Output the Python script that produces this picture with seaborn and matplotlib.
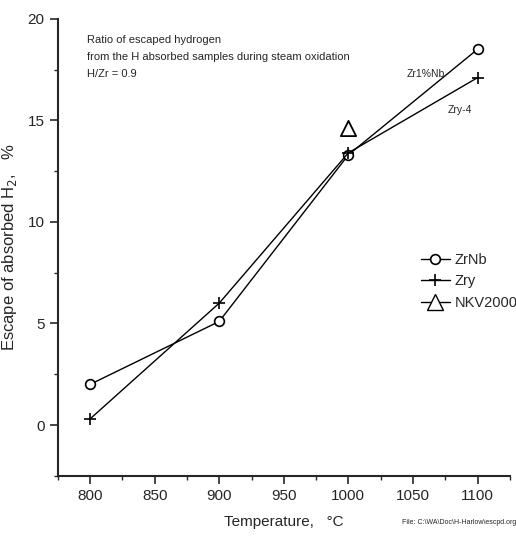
import pandas as pd
import matplotlib
matplotlib.use('Agg')
from matplotlib import pyplot as plt
from matplotlib.ticker import MultipleLocator
import seaborn as sns

sns.set_style('ticks')
plt.rcParams['font.family'] = ['Liberation Sans', 'DejaVu Sans']

temps = [800, 900, 1000, 1100]
zrnb = [2.0, 5.1, 13.3, 18.5]
zry = [0.3, 6.0, 13.4, 17.1]
nkv_temp = [1000]
nkv = [14.6]

df = pd.DataFrame({'T': temps + temps, 'esc': zrnb + zry,
                   'alloy': ['ZrNb'] * 4 + ['Zry'] * 4})

fig = plt.figure(figsize=(5.16, 5.37), dpi=100)
ax = fig.add_axes([0.112, 0.114, 0.876, 0.851])

sns.lineplot(data=df[df.alloy == 'ZrNb'], x='T', y='esc', ax=ax, color='black', lw=1,
             marker='o', markersize=7, markerfacecolor='white', markeredgecolor='black',
             markeredgewidth=1.2, label='ZrNb')
sns.lineplot(data=df[df.alloy == 'Zry'], x='T', y='esc', ax=ax, color='black', lw=1,
             marker='+', markersize=9, markeredgewidth=1.2, markeredgecolor='black',
             label='Zry')
sns.scatterplot(x=nkv_temp, y=nkv, ax=ax, marker='^', s=120, facecolor='white',
                edgecolor='black', linewidth=1.3, label='NKV2000')
# legend entry for NKV2000 drawn with a dash like the original
h, l = ax.get_legend_handles_labels()
h[2] = plt.Line2D([], [], color='black', lw=1, marker='^', markersize=11,
                  markerfacecolor='white', markeredgecolor='black')
ax.legend(h, l, loc='upper left', bbox_to_anchor=(0.79, 0.50), frameon=False,
          fontsize=10.5, handlelength=2.0, handletextpad=0.3, labelspacing=0.5,
          borderaxespad=0)

ax.set_xlim(775, 1125)
ax.set_ylim(-2.5, 20)
ax.xaxis.set_major_locator(MultipleLocator(50))
ax.xaxis.set_minor_locator(MultipleLocator(25))
ax.yaxis.set_major_locator(MultipleLocator(5))
ax.yaxis.set_minor_locator(MultipleLocator(2.5))
ax.tick_params(which='major', length=6, width=1.2, labelsize=11, direction='out')
ax.tick_params(which='minor', length=3, width=1)
for s in ['left', 'bottom']:
    ax.spines[s].set_linewidth(1.5)
sns.despine(ax=ax)

ax.set_xlabel('Temperature,   °C', fontsize=11)
ax.xaxis.set_label_coords(0.5, -0.085)
ax.set_ylabel('Escape of absorbed H$_2$,   %', fontsize=12)
ax.yaxis.set_label_coords(-0.085, 0.5)

ax.text(0.065, 0.965, 'Ratio of escaped hydrogen\nfrom the H absorbed samples during steam oxidation\nH/Zr = 0.9',
        transform=ax.transAxes, fontsize=8, va='top', linespacing=1.9)
ax.text(1045, 17.3, 'Zr1%Nb', fontsize=7.5, va='center')
ax.text(1077, 15.5, 'Zry-4', fontsize=7.5, va='center')
fig.text(0.78, 0.025, 'File: C:\\WA\\Doc\\H-Harlow\\escpd.org', fontsize=5)

fig.savefig('out.png', dpi=100)
